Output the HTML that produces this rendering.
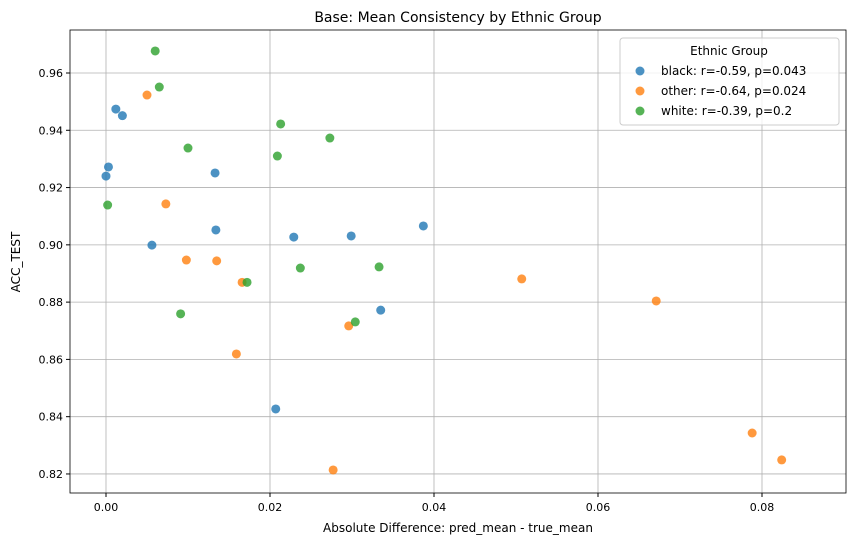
<!DOCTYPE html>
<html><head><meta charset="utf-8"><style>
body{margin:0;background:#fff;font-family:"Liberation Sans","DejaVu Sans",sans-serif;}
svg text{font-family:"DejaVu Sans","Liberation Sans",sans-serif;}
</style></head><body>
<svg id="chart" width="855" height="545" xmlns="http://www.w3.org/2000/svg">
<rect width="855" height="545" fill="#fff"/>
<g id="grid"></g><g id="ticks"></g><g id="pts"></g>
<rect x="70" y="30" width="776" height="463" fill="none" stroke="#000" stroke-width="0.8"/>
<text x="458" y="22" text-anchor="middle" font-size="14">Base: Mean Consistency by Ethnic Group</text>
<text x="458" y="532" text-anchor="middle" font-size="12">Absolute Difference: pred_mean - true_mean</text>
<text x="20" y="262" text-anchor="middle" font-size="12" transform="rotate(-90 20 262)">ACC_TEST</text>
<g>
<rect x="620" y="38" width="219" height="87" rx="3" fill="#fff" fill-opacity="0.8" stroke="#ccc"/>
<text x="729" y="55" text-anchor="middle" font-size="12">Ethnic Group</text>
<g><circle cx="640" cy="71" r="4.5" fill="#1f77b4" fill-opacity="0.8"/><text x="661" y="75" font-size="12">black: r=-0.59, p=0.043</text></g>
<g><circle cx="640" cy="91" r="4.5" fill="#ff7f0e" fill-opacity="0.8"/><text x="661" y="95" font-size="12">other: r=-0.64, p=0.024</text></g>
<g><circle cx="640" cy="111" r="4.5" fill="#2ca02c" fill-opacity="0.8"/><text x="661" y="115" font-size="12">white: r=-0.39, p=0.2</text></g>
</g>
</svg>
<script>
const xTicks=[0,0.02,0.04,0.06,0.08];
const yTicks=[0.82,0.84,0.86,0.88,0.90,0.92,0.94,0.96];
const blackX=[0,0.0003,0.0012,0.002,0.0056,0.0133,0.0134,0.0207,0.0229,0.0299,0.0335,0.0387];
const blackY=[0.924,0.9272,0.9474,0.9451,0.8999,0.9251,0.9052,0.8427,0.9027,0.9031,0.8772,0.9066];
const otherX=[0.005,0.0073,0.0098,0.0135,0.0159,0.0166,0.0296,0.0277,0.0507,0.0671,0.0788,0.0824];
const otherY=[0.9523,0.9143,0.8947,0.8944,0.8619,0.8869,0.8717,0.8214,0.8881,0.8804,0.8343,0.8249];
const whiteX=[0.0002,0.006,0.0065,0.0091,0.01,0.0172,0.0209,0.0213,0.0237,0.0273,0.0304,0.0333];
const whiteY=[0.9139,0.9677,0.9551,0.8759,0.9338,0.8869,0.931,0.9422,0.8919,0.9373,0.8731,0.8923];
const sx=v=>106+v*8200, sy=v=>73+(0.96-v)*2864;
const NS="http://www.w3.org/2000/svg";
function mk(t,a,p){const e=document.createElementNS(NS,t);for(const k in a)e.setAttribute(k,a[k]);p.appendChild(e);return e;}
const g=document.getElementById('grid'),tk=document.getElementById('ticks'),pts=document.getElementById('pts');
xTicks.forEach(v=>{const x=sx(v);
 const l=mk('line',{x1:x,x2:x,y1:30,y2:493,stroke:'#b0b0b0','stroke-width':0.8},g);
 
 
 mk('line',{x1:x,x2:x,y1:493,y2:497,stroke:'#000'},tk);
 const t=mk('text',{x:x,y:511,'text-anchor':'middle','font-size':11},tk);t.textContent=v.toFixed(2);
 
 });
yTicks.forEach(v=>{const y=sy(v);
 const l=mk('line',{x1:70,x2:846,y1:y,y2:y,stroke:'#b0b0b0','stroke-width':0.8},g);
 
 
 mk('line',{x1:66,x2:70,y1:y,y2:y,stroke:'#000'},tk);
 const t=mk('text',{x:63,y:y+4,'text-anchor':'end','font-size':11},tk);t.textContent=v.toFixed(2);
 
 });
[[blackX,blackY,'#1f77b4','black'],[otherX,otherY,'#ff7f0e','other'],[whiteX,whiteY,'#2ca02c','white']].forEach(([X,Y,c,n])=>{
 X.forEach((x,i)=>{const p=mk('circle',{cx:sx(x),cy:sy(Y[i]),r:4.5,fill:c,'fill-opacity':0.8},pts);
 
 });});
</script>
</body></html>
